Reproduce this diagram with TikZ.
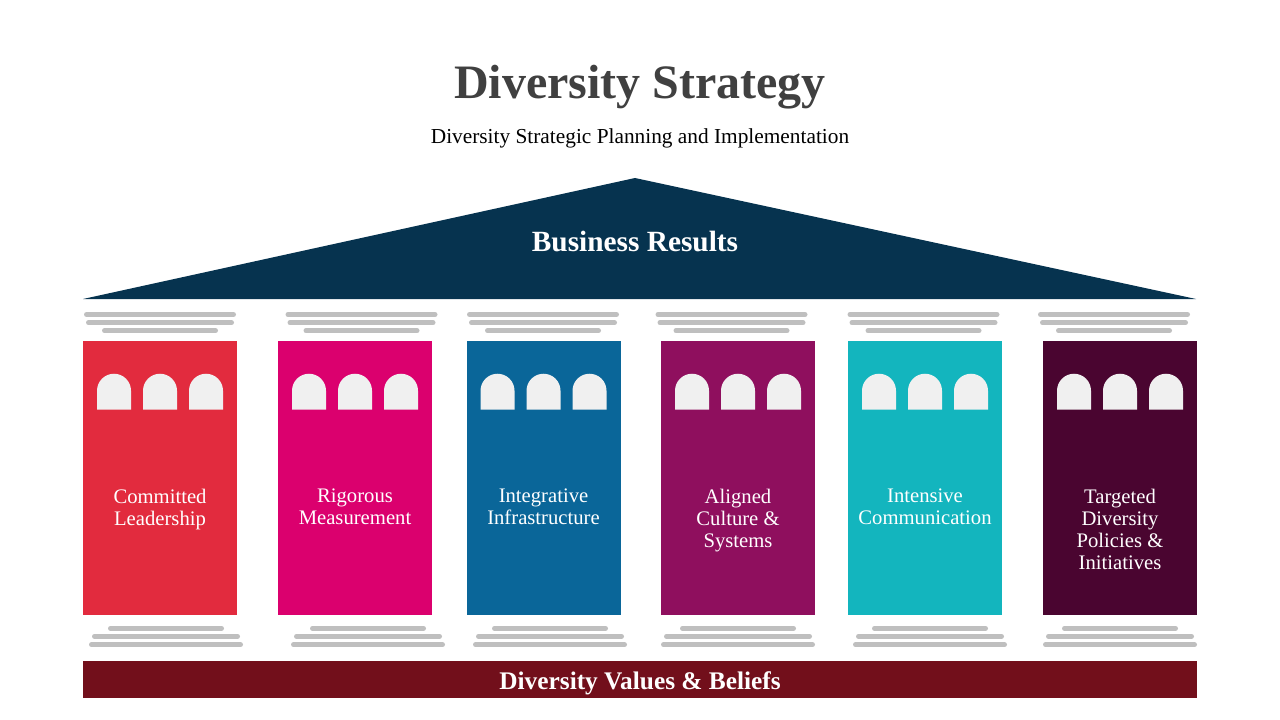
\documentclass[tikz,border=0pt]{standalone}
\usepackage{fontspec}
\setmainfont{Liberation Serif}
\usetikzlibrary{calc,positioning}
\definecolor{roofblue}{HTML}{06334F}
\definecolor{basered}{HTML}{720F1B}
\definecolor{bargray}{HTML}{BFBFBF}
\definecolor{wingray}{HTML}{F0F0F0}
\definecolor{titlegray}{HTML}{404040}
\definecolor{colA}{HTML}{E22B3E}
\definecolor{colB}{HTML}{DB006E}
\definecolor{colC}{HTML}{0A6699}
\definecolor{colD}{HTML}{8F0F5E}
\definecolor{colE}{HTML}{13B5BE}
\definecolor{colF}{HTML}{4A0530}
\tikzset{
  bar/.style={draw=bargray, line width=3.75pt, line cap=round},
  window/.style={fill=wingray},
  pillarbox/.style={minimum width=115.5pt, minimum height=205.5pt, inner sep=0pt},
  pillartext/.style={text=white, align=center, inner sep=0pt,
                     font=\fontsize{15.5}{16.5}\selectfont},
}
% #1 name, #2 colour, #3 centre x, #4 top bars x, #5 foot bars x, #6 label
\newcommand{\pillar}[6]{%
  \node[pillarbox, fill=#2] (#1) at (#3,478) {};
  \foreach \dx in {-46,0,46}{
    \fill[window] ($(#1.north)+(\dx-17,69)$) -- ++(0,-19)
      arc[start angle=180, end angle=0, radius=12.75pt] -- ++(0,19) -- cycle;
  }
  \node[pillartext, anchor=north] (#1-label) at (#3,489) {#6};
  \draw[bar] (#4-73.5,314.5) -- (#4+73.5,314.5);
  \draw[bar] (#4-71.5,322.7) -- (#4+71.5,322.7);
  \draw[bar] (#4-55.5,330.7) -- (#4+55.5,330.7);
  \draw[bar] (#5-55.5,628.3) -- (#5+55.5,628.3);
  \draw[bar] (#5-71.5,636.3) -- (#5+71.5,636.3);
  \draw[bar] (#5-74.5,644.7) -- (#5+74.5,644.7);
}

\begin{document}
\begin{tikzpicture}[x=0.75pt, y=-0.75pt]
  \useasboundingbox (0,0) rectangle (1280,720);

  \node[text=titlegray, font=\fontsize{36}{40}\selectfont\bfseries] (title) at (640,87) {Diversity Strategy};
  \node[text=black, font=\fontsize{16}{18}\selectfont] (subtitle) at (640,138) {Diversity Strategic Planning and Implementation};

  % roof
  \coordinate (roofL) at (83,299);
  \coordinate (roofT) at (635,178);
  \coordinate (roofR) at (1196,299);
  \fill[roofblue] (roofL) -- (roofT) -- (roofR) -- cycle;
  \node[text=white, font=\fontsize{22}{26}\selectfont\bfseries] (results) at (635,242) {Business Results};

  % pillars
  \pillar{lead}{colA}{160}{160}{166}{Committed\\Leadership}
  \pillar{meas}{colB}{355}{361.5}{368}{Rigorous\\Measurement}
  \pillar{infra}{colC}{543.5}{543}{550}{Integrative\\Infrastructure}
  \pillar{cult}{colD}{738}{731.5}{738}{Aligned\\Culture \&\\Systems}
  \pillar{comm}{colE}{925}{923.5}{930}{Intensive\\Communication}
  \pillar{target}{colF}{1120}{1114}{1120}{Targeted\\Diversity\\Policies \&\\Initiatives}

  % base
  \node[fill=basered, minimum width=835.5pt, minimum height=27.75pt, inner sep=0pt] (values) at (640,679.5) {};
  \node[text=white, font=\fontsize{19}{22}\selectfont\bfseries] (values-label) at (640,683) {Diversity Values \& Beliefs};
\end{tikzpicture}
\end{document}
